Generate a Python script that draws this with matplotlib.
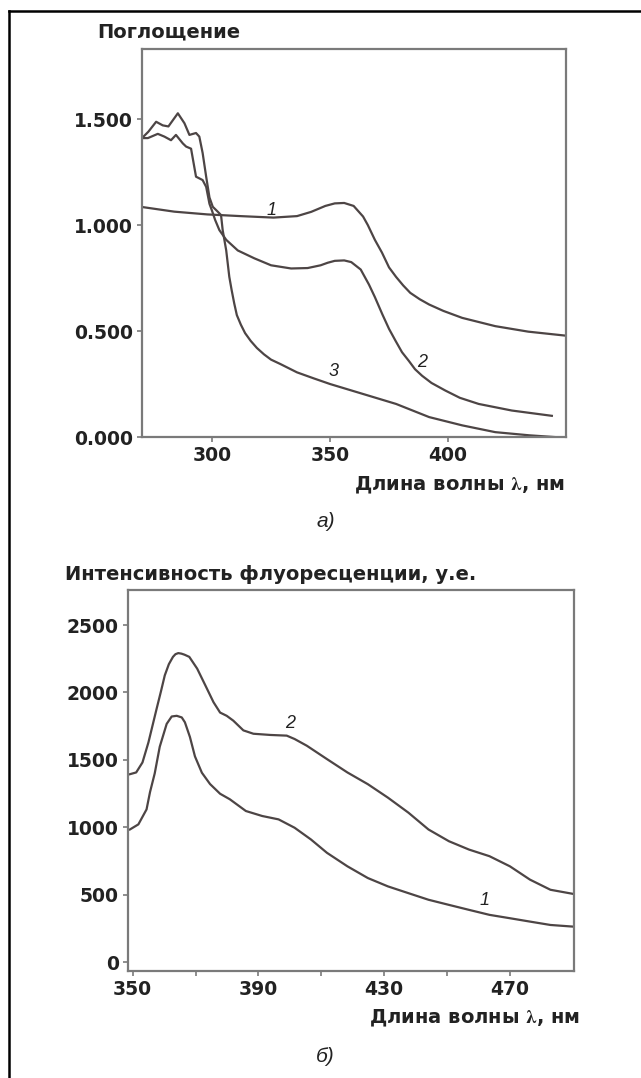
import numpy as np
import matplotlib
matplotlib.use("Agg")
import matplotlib.pyplot as plt
from matplotlib.lines import Line2D

# ---- данные: а) поглощение ----
abs1_x = [270.3, 284, 298, 312, 326, 336, 342, 348, 352, 356, 360, 364, 366, 369, 372, 375, 378, 381, 384, 388,
          392, 398, 406, 420, 434, 450]
abs1_y = [1.085, 1.063, 1.05, 1.042, 1.035, 1.042, 1.062, 1.09, 1.102, 1.104, 1.09, 1.04, 1.00, 0.93, 0.87, 0.80,
          0.755, 0.715, 0.68, 0.65, 0.625, 0.595, 0.562, 0.523, 0.497, 0.478]

abs2_x = [270.3, 272.8, 277, 279.8, 282.6, 284.7, 287.6, 289, 291.1, 293.2, 294.6, 296, 297.5, 298.9, 299.9, 301.3,
          303.1, 306, 310.9, 317.9, 325, 333.5, 340.5, 346, 349, 352, 356, 359, 363, 366.5, 369, 372.2, 375, 377.8,
          380.5, 383.4, 386, 389, 393, 398.9, 405, 413, 427, 444]
abs2_y = [1.41, 1.41, 1.43, 1.417, 1.40, 1.425, 1.385, 1.37, 1.36, 1.228, 1.22, 1.212, 1.18, 1.10, 1.07, 1.024,
          0.976, 0.93, 0.88, 0.843, 0.81, 0.795, 0.797, 0.81, 0.822, 0.831, 0.833, 0.825, 0.79, 0.719, 0.66, 0.578,
          0.51, 0.453, 0.40, 0.359, 0.32, 0.289, 0.255, 0.219, 0.185, 0.156, 0.125, 0.10]

abs3_x = [270.3, 273, 276.3, 279.1, 281.5, 285.5, 288.3, 290.4, 293.2, 294.6, 296, 297.5, 298.9, 300.3, 302.4, 303.8,
          304.5, 306, 307.3, 308.3, 309.4, 310.5, 312.2, 314, 316.4, 319, 322, 325, 329, 336, 343, 350, 364, 378,
          392, 406, 420, 434.5, 445]
abs3_y = [1.41, 1.44, 1.487, 1.47, 1.465, 1.527, 1.48, 1.425, 1.434, 1.417, 1.34, 1.228, 1.13, 1.086, 1.063, 1.047,
          0.976, 0.88, 0.756, 0.693, 0.63, 0.575, 0.53, 0.49, 0.453, 0.42, 0.39, 0.365, 0.344, 0.305, 0.277, 0.25,
          0.203, 0.156, 0.094, 0.055, 0.023, 0.008, 0.0]

abs_yticks = [0.0, 0.5, 1.0, 1.5]
abs_xticks = [300, 350, 400]

# ---- данные: б) флуоресценция ----
fl1_x = [349.1, 351.8, 354.4, 355.5, 357, 358.6, 360.8, 362.4, 364, 365.6, 366.6, 368.2, 369.8, 372, 374.6, 377.8,
         380.9, 386, 391.2, 396.4, 401.5, 406.7, 411.8, 418.3, 424.8, 431.2, 437.7, 444.1, 450.6, 457, 463.5, 470,
         476.4, 482.9, 490]
fl1_y = [984, 1022, 1133, 1261, 1400, 1598, 1767, 1822, 1827, 1815, 1779, 1670, 1526, 1405, 1321, 1249, 1208, 1121,
         1084, 1059, 997, 910, 811, 711, 624, 562, 512, 463, 425, 388, 351, 326, 301, 276, 264]

fl2_x = [349.1, 351.1, 353.1, 355, 357.6, 359, 360.2, 361.5, 362.8, 363.6, 364.5, 365.5, 366.5, 368, 370.5, 373.1,
         375.7, 377.8, 379.9, 382, 385.2, 388.4, 393.8, 399, 401.5, 405.4, 411.8, 418.3, 424.8, 431.2, 437.7, 444.1,
         450.6, 457, 463.5, 470, 476.4, 482.9, 490]
fl2_y = [1394, 1407, 1481, 1630, 1879, 2010, 2127, 2210, 2264, 2284, 2292, 2288, 2280, 2264, 2177, 2053, 1928, 1851,
         1827, 1791, 1719, 1694, 1685, 1680, 1655, 1605, 1506, 1407, 1320, 1220, 1109, 984, 897, 835, 786, 711, 612,
         537, 507]

fl_yticks = [0, 500, 1000, 1500, 2000, 2500]
fl_xticks = [350, 390, 430, 470]
fl_xminor = [370, 410, 450]

LINE = "#4d4545"
SPINE = "#7a7a7a"
TXT = "#222222"
BOLD_FONT = ["DejaVu Sans"]

plt.rcParams["font.family"] = ["Liberation Sans", "DejaVu Sans"]
plt.rcParams["mathtext.fontset"] = "stix"

fig = plt.figure(figsize=(6.41, 10.78), dpi=100)
fig.patch.set_facecolor("white")

# рамка (верх и лево)
fig.add_artist(Line2D([0.014, 1.0], [0.9898, 0.9898], color="black", lw=1.8, transform=fig.transFigure))
fig.add_artist(Line2D([0.014, 0.014], [0.0, 0.9898], color="black", lw=1.8, transform=fig.transFigure))


def style_axes(ax):
    for s in ax.spines.values():
        s.set_color(SPINE)
        s.set_linewidth(1.6)
    ax.tick_params(axis="both", which="both", direction="out", color=SPINE, width=1.2,
                   length=3.5, pad=3, labelsize=13.5, labelcolor=TXT)
    for lab in ax.get_xticklabels() + ax.get_yticklabels():
        lab.set_fontweight("bold")
        lab.set_family(BOLD_FONT)


# ---- а) ----
ax1 = fig.add_axes([0.2215, 0.5946, 0.6615, 0.3599])
ax1.plot(abs1_x, abs1_y, color=LINE, lw=1.6)
ax1.plot(abs2_x, abs2_y, color=LINE, lw=1.6)
ax1.plot(abs3_x, abs3_y, color=LINE, lw=1.6)
ax1.set_xlim(270.3, 450)
ax1.set_ylim(0, 1.83)
ax1.set_xticks(abs_xticks)
ax1.set_yticks(abs_yticks)
ax1.set_yticklabels([f"{v:.3f}" for v in abs_yticks])
style_axes(ax1)
ax1.text(325, 1.07, "1", fontsize=13, style="italic", color=TXT, ha="center", va="center")
ax1.text(389, 0.35, "2", fontsize=13, style="italic", color=TXT, ha="center", va="center")
ax1.text(351.7, 0.31, "3", fontsize=13, style="italic", color=TXT, ha="center", va="center")

fig.text(0.1513, 0.9703, "Поглощение", fontsize=14, fontweight="bold", color=TXT, ha="left", va="center",
         family=BOLD_FONT)
fig.text(0.8814, 0.5501, r"Длина волны $\mathbf{\lambda}$, нм", fontsize=14, fontweight="bold", color=TXT,
         ha="right", va="center", family=BOLD_FONT)
fig.text(0.508, 0.5158, "а)", fontsize=15, style="italic", color=TXT, ha="center", va="center")

# ---- б) ----
ax2 = fig.add_axes([0.1997, 0.0993, 0.6958, 0.3534])
ax2.plot(fl1_x, fl1_y, color=LINE, lw=1.6)
ax2.plot(fl2_x, fl2_y, color=LINE, lw=1.6)
ax2.set_xlim(348.5, 490.4)
ax2.set_ylim(-65, 2760)
ax2.set_xticks(fl_xticks)
ax2.set_xticks(fl_xminor, minor=True)
ax2.set_yticks(fl_yticks)
style_axes(ax2)
ax2.text(400, 1771, "2", fontsize=13, style="italic", color=TXT, ha="center", va="center")
ax2.text(462, 455, "1", fontsize=13, style="italic", color=TXT, ha="center", va="center")

fig.text(0.1014, 0.4675, "Интенсивность флуоресценции, у.е.", fontsize=14, fontweight="bold", color=TXT,
         ha="left", va="center", family=BOLD_FONT)
fig.text(0.9048, 0.0557, r"Длина волны $\mathbf{\lambda}$, нм", fontsize=14, fontweight="bold", color=TXT,
         ha="right", va="center", family=BOLD_FONT)
fig.text(0.508, 0.0195, "б)", fontsize=15, style="italic", color=TXT, ha="center", va="center")

fig.savefig("out.png", dpi=100)
